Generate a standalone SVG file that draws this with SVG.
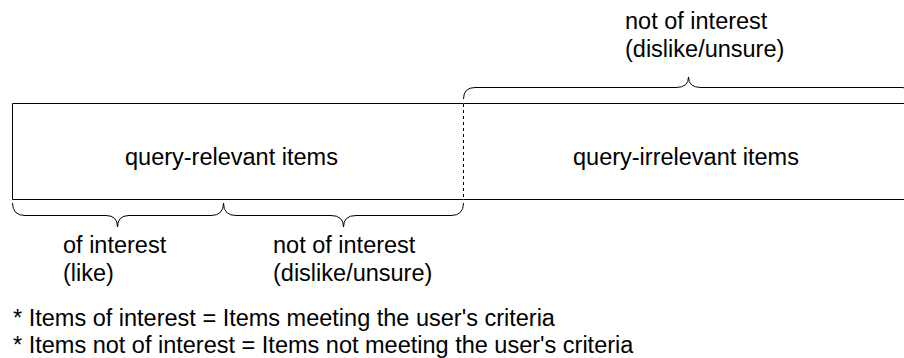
<svg xmlns="http://www.w3.org/2000/svg" width="904" height="358" viewBox="0 0 904 358">
<style>
text{font-family:"Liberation Sans",Arial,sans-serif;font-size:23.5px;fill:#000}
.box{fill:none;stroke:#000;stroke-width:1}
.brace{fill:none;stroke:#000;stroke-width:1}
.dash{stroke:#000;stroke-width:1;stroke-dasharray:3 3;fill:none}
</style>
<rect width="904" height="358" fill="#fff"/>
<g id="relevant">
<path class="box" d="M463.5,103.5 H12.5 V199.5 H463.5"/>
<text x="125" y="165">query-relevant items</text>
</g>
<g id="irrelevant">
<path class="box" d="M463.5,103.5 H913.5 V199.5 H463.5"/>
<text x="573" y="165">query-irrelevant items</text>
</g>
<g id="connectors">
<line class="dash" x1="463.5" y1="104" x2="463.5" y2="199"/>
<path class="brace" d="M463.5,99 Q463.5,87.5 475,87.5 L676,87.5 Q688.5,87.5 688.5,77 Q688.5,87.5 701,87.5 L902,87.5 Q913.5,87.5 913.5,99"/>
<path class="brace" d="M12.5,203 Q12.5,215.5 25,215.5 L106,215.5 Q117.5,215.5 117.5,227 Q117.5,215.5 129,215.5 L211,215.5 Q223.5,215.5 223.5,203"/>
<path class="brace" d="M223.5,203 Q223.5,215.5 236,215.5 L331,215.5 Q343.5,215.5 343.5,227 Q343.5,215.5 356,215.5 L451,215.5 Q463.5,215.5 463.5,203"/>
</g>
<g id="label-top">
<text x="625" y="29">not of interest</text>
<text x="625" y="57">(dislike/unsure)</text>
</g>
<g id="label-like">
<text x="63" y="253">of interest</text>
<text x="63" y="281">(like)</text>
</g>
<g id="label-dislike">
<text x="273" y="253">not of interest</text>
<text x="273" y="281">(dislike/unsure)</text>
</g>
<g id="notes">
<text x="13" y="326">* Items of interest = Items meeting the user's criteria</text>
<text x="13" y="353">* Items not of interest = Items not meeting the user's criteria</text>
</g>
</svg>
